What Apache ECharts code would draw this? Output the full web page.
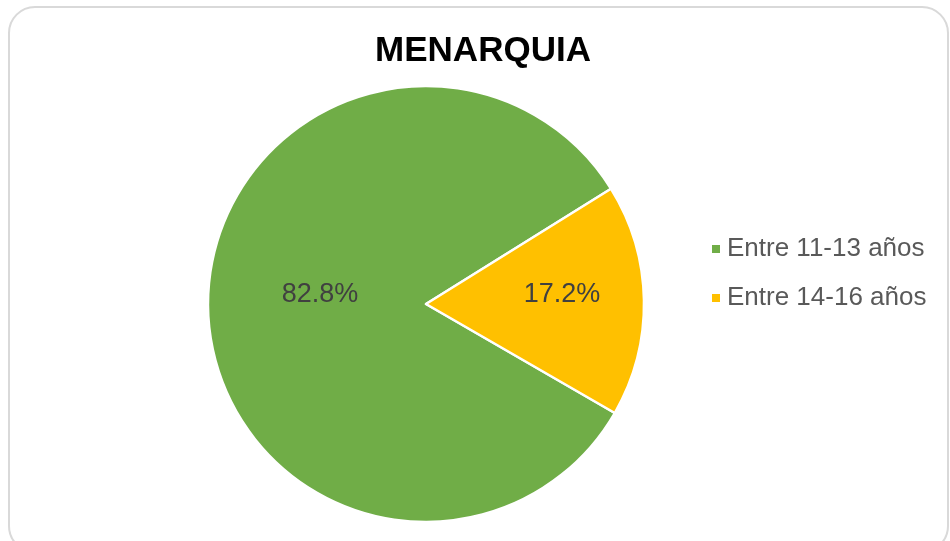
<!DOCTYPE html>
<html>
<head>
<meta charset="utf-8">
<script src="https://cdn.jsdelivr.net/npm/echarts@6/dist/echarts.min.js"></script>
<style>
  html, body { margin: 0; padding: 0; background: #fff; }
  #main { width: 950px; height: 541px; }
</style>
</head>
<body>
<div id="main"></div>
<script>
// datos del gráfico
const categorias = ['Entre 11-13 años', 'Entre 14-16 años'];
const porcentajes = [82.8, 17.2];
const colores = ['#70AD47', '#FFC000'];
const desplazamientos = [[6, -11], [24, -8]]; // posición de etiquetas como en Excel

const myChart = echarts.init(document.getElementById('main'));

myChart.setOption({
    backgroundColor: '#ffffff',
    animation: false,
    graphic: [{
        type: 'rect',
        shape: {x: 9, y: 7, width: 939, height: 545, r: 26},
        style: {fill: 'none', stroke: '#d9d9d9', lineWidth: 2},
        z: -1
    }],
    title: {
        text: 'MENARQUIA',
        left: 478,
        top: 29,
        textAlign: 'center',
        textStyle: {
            fontFamily: 'Liberation Sans',
            fontWeight: 'bold',
            fontSize: 35,
            color: '#000000'
        }
    },
    legend: {
        orient: 'vertical',
        left: 705,
        top: 231,
        itemWidth: 10,
        itemHeight: 10,
        itemGap: 23,
        icon: 'rect',
        data: categorias,
        textStyle: {
            fontFamily: 'Liberation Sans',
            fontSize: 26,
            color: '#595959',
            padding: [0, 0, 0, 1]
        }
    },
    series: [{
        type: 'pie',
        center: [426, 304],
        radius: 218,
        startAngle: 330,
        clockwise: true,
        itemStyle: {borderColor: '#ffffff', borderWidth: 2.5},
        label: {
            position: 'inner',
            formatter: p => p.value.toFixed(1) + '%',
            fontFamily: 'Liberation Sans',
            fontSize: 27,
            color: '#404040'
        },
        emphasis: {disabled: true},
        data: categorias.map((c, i) => ({
            name: c,
            value: porcentajes[i],
            itemStyle: {color: colores[i]},
            label: {offset: desplazamientos[i]}
        }))
    }]
});
</script>
</body>
</html>
